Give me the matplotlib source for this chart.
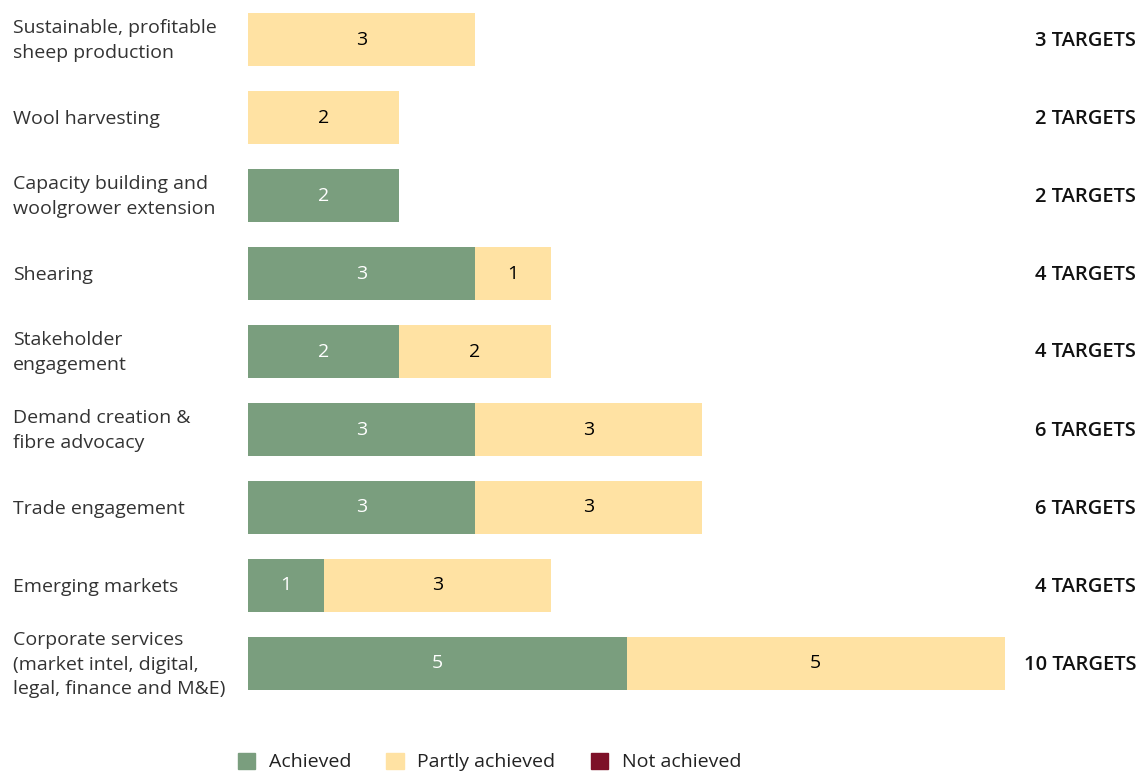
import numpy as np
import matplotlib.pyplot as plt
from matplotlib.patches import Patch

categories = [
    "Sustainable, profitable\nsheep production",
    "Wool harvesting",
    "Capacity building and\nwoolgrower extension",
    "Shearing",
    "Stakeholder\nengagement",
    "Demand creation &\nfibre advocacy",
    "Trade engagement",
    "Emerging markets",
    "Corporate services\n(market intel, digital,\nlegal, finance and M&E)",
]
achieved = [0, 0, 2, 3, 2, 3, 3, 1, 5]
partly = [3, 2, 0, 1, 2, 3, 3, 3, 5]
not_achieved = [0, 0, 0, 0, 0, 0, 0, 0, 0]
series_labels = ["Achieved", "Partly achieved", "Not achieved"]

green = "#7a9e7e"
yellow = "#ffe2a3"
red = "#7d1128"

plt.rcParams['font.family'] = ['Open Sans', 'DejaVu Sans']

W, H = 1139, 774
fig = plt.figure(figsize=(W / 100, H / 100), dpi=100)
ax = fig.add_axes([248 / W, 71.5 / H, (1005 - 248) / W, 702 / H])

y = np.arange(len(categories))
a = np.array(achieved)
p = np.array(partly)
n = np.array(not_achieved)

ax.barh(y, a, height=0.68, color=green)
ax.barh(y, p, left=a, height=0.68, color=yellow)
ax.barh(y, n, left=a + p, height=0.68, color=red)

for i in range(len(categories)):
    if a[i] > 0:
        ax.text(a[i] / 2, y[i], str(a[i]), ha="center", va="center",
                color="white", fontsize=14)
    if p[i] > 0:
        ax.text(a[i] + p[i] / 2, y[i], str(p[i]), ha="center", va="center",
                color="black", fontsize=14)
    total = a[i] + p[i] + n[i]
    fy = 1 - (40.5 + 78 * i) / H
    fig.text(1136 / W, fy, f"{total} TARGETS", ha="right", va="center",
             fontsize=14.5, fontweight="semibold", color="#111111")
    fig.text(13 / W, fy, categories[i], ha="left", va="center",
             fontsize=14, color="#333333", linespacing=1.45)

ax.set_xlim(0, 10)
ax.set_ylim(len(categories) - 0.5, -0.5)
ax.axis("off")

handles = [Patch(color=c) for c in (green, yellow, red)]
fig.legend(handles, series_labels, loc="center", ncol=3,
           bbox_to_anchor=(489.5 / W, 1 - 762 / H), frameon=False,
           fontsize=14, handlelength=0.9, handleheight=0.9,
           handletextpad=0.7, columnspacing=1.8, labelcolor="#222222")

fig.savefig("out.png", dpi=100)
